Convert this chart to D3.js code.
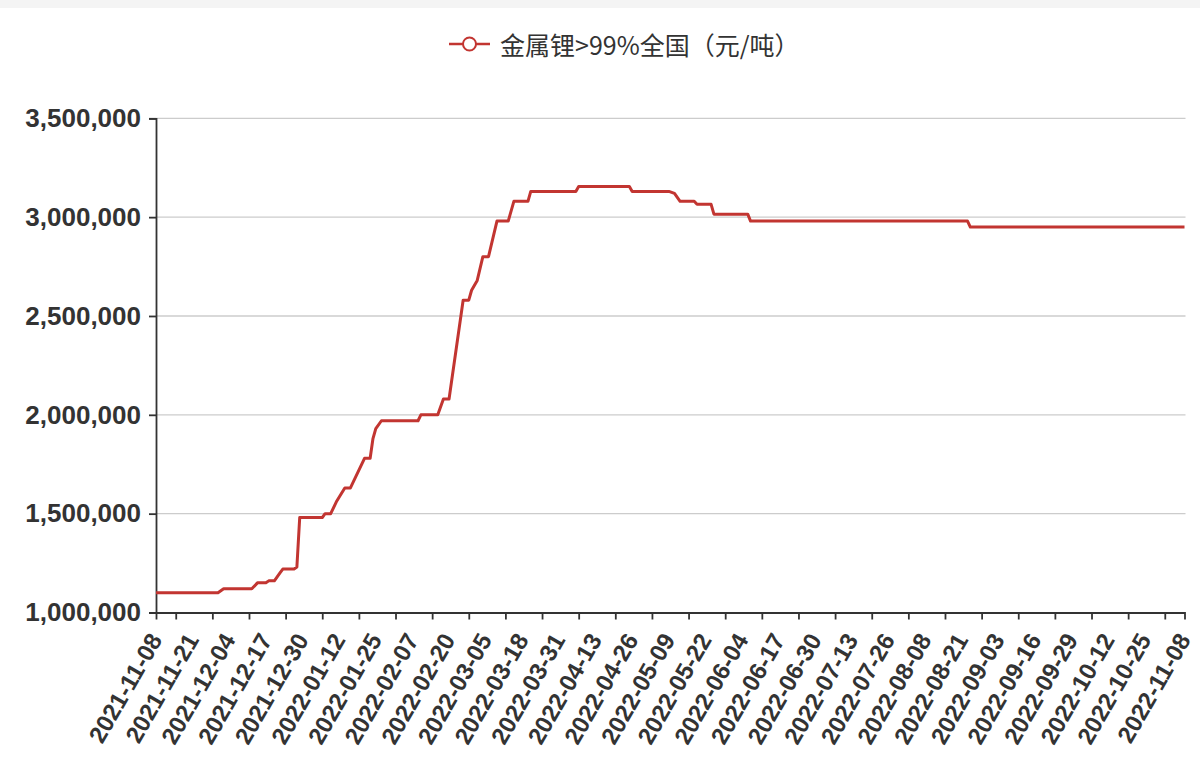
<!DOCTYPE html>
<html>
<head>
<meta charset="utf-8">
<script src="https://cdn.jsdelivr.net/npm/d3@7/dist/d3.min.js"></script>
<style>
  html, body { margin: 0; padding: 0; background: #fff; }
  svg { display: block; }
</style>
</head>
<body>
<svg id="chart" width="1200" height="757"></svg>
<script>
// ---- data ----
const seriesName = "金属锂>99%全国（元/吨）";
const pointDates = [
  "2021-11-08","2021-11-30","2021-12-02","2021-12-12","2021-12-14","2021-12-17",
  "2021-12-18","2021-12-20","2021-12-21","2021-12-22","2021-12-23","2021-12-27",
  "2021-12-28","2021-12-29","2022-01-06","2022-01-07","2022-01-09","2022-01-11",
  "2022-01-14","2022-01-16","2022-01-21","2022-01-23","2022-01-24","2022-01-25",
  "2022-01-27","2022-02-09","2022-02-10","2022-02-16","2022-02-18","2022-02-20",
  "2022-02-25","2022-02-27","2022-02-28","2022-03-02","2022-03-04","2022-03-06",
  "2022-03-09","2022-03-13","2022-03-15","2022-03-20","2022-03-21","2022-03-22",
  "2022-04-06","2022-04-07","2022-04-25","2022-04-26","2022-05-09","2022-05-11",
  "2022-05-13","2022-05-18","2022-05-19","2022-05-24","2022-05-25","2022-06-06",
  "2022-06-07","2022-08-23","2022-08-24","2022-11-08"
];
const pointValues = [
  1100000,1100000,1120000,1120000,1150000,1150000,
  1160000,1160000,1180000,1200000,1220000,1220000,
  1230000,1480000,1480000,1500000,1500000,1560000,
  1630000,1630000,1780000,1780000,1880000,1930000,
  1970000,1970000,2000000,2000000,2080000,2080000,
  2580000,2580000,2630000,2680000,2800000,2800000,
  2980000,2980000,3080000,3080000,3130000,3130000,
  3130000,3155000,3155000,3130000,3130000,3120000,
  3080000,3080000,3065000,3065000,3015000,3015000,
  2980000,2980000,2950000,2950000
];
const yTicks = [1000000,1500000,2000000,2500000,3000000,3500000];
const xLabels = [
  "2021-11-08","2021-11-21","2021-12-04","2021-12-17","2021-12-30","2022-01-12",
  "2022-01-25","2022-02-07","2022-02-20","2022-03-05","2022-03-18","2022-03-31",
  "2022-04-13","2022-04-26","2022-05-09","2022-05-22","2022-06-04","2022-06-17",
  "2022-06-30","2022-07-13","2022-07-26","2022-08-08","2022-08-21","2022-09-03",
  "2022-09-16","2022-09-29","2022-10-12","2022-10-25","2022-11-08"
];

// ---- drawing ----
const parse = d3.utcParse("%Y-%m-%d");
const data = pointDates.map((d, i) => ({ date: parse(d), value: pointValues[i] }));
const labelDates = xLabels.map(parse);
const tickDates = labelDates.slice(0, -1).map(d => d3.utcDay.offset(d, 7));

const svg = d3.select("#chart");
const plotLeft = 156, plotRight = 1184.5, plotTop = 118.3, plotBottom = 612.5;
const x = d3.scaleUtc().domain([parse("2021-11-08"), parse("2022-11-08")]).range([plotLeft, plotRight]);
const y = d3.scaleLinear().domain([1000000, 3500000]).range([plotBottom, plotTop]);

// top band
svg.append("rect").attr("x", 0).attr("y", 0).attr("width", 1200).attr("height", 8).attr("fill", "#f4f4f4");

// grid
svg.append("g").selectAll("line").data(yTicks.slice(1)).join("line")
  .attr("x1", plotLeft).attr("x2", plotRight + 1)
  .attr("y1", d => y(d)).attr("y2", d => y(d))
  .attr("stroke", "#cccccc").attr("stroke-width", 1.3);

// y axis
const yAxis = svg.append("g").attr("transform", `translate(${plotLeft},0)`)
  .call(d3.axisLeft(y).tickValues(yTicks).tickSize(7).tickPadding(8).tickFormat(d3.format(",")));
yAxis.select(".domain").attr("stroke", "#333").attr("stroke-width", 1.8);
yAxis.selectAll(".tick line").attr("stroke", "#333").attr("stroke-width", 1.8);
yAxis.selectAll("text").attr("fill", "#333").style("font-family", "'Liberation Sans', Arial, sans-serif")
  .style("font-size", "26px").style("font-weight", "bold");

// x axis: tick marks
const xAxisTicks = svg.append("g").attr("transform", `translate(0,${plotBottom})`)
  .call(d3.axisBottom(x).tickValues(tickDates).tickSize(7).tickFormat(""));
xAxisTicks.select(".domain").attr("stroke", "#333").attr("stroke-width", 1.8);
xAxisTicks.selectAll(".tick line").attr("stroke", "#333").attr("stroke-width", 1.8);

// x axis: labels
const xAxisLabels = svg.append("g").attr("transform", `translate(0,${plotBottom})`)
  .call(d3.axisBottom(x).tickValues(labelDates).tickSize(0).tickFormat(d3.utcFormat("%Y-%m-%d")));
xAxisLabels.select(".domain").remove();
xAxisLabels.selectAll("text")
  .attr("y", 0).attr("dy", 0)
  .attr("transform", "translate(1,24) rotate(-60)")
  .attr("text-anchor", "end")
  .attr("dominant-baseline", "middle")
  .attr("fill", "#333")
  .style("font-family", "'Liberation Sans', Arial, sans-serif")
  .style("font-size", "24px").style("font-weight", "bold");

// line
const line = d3.line().x(d => x(d.date)).y(d => y(d.value));
svg.append("path").datum(data).attr("d", line)
  .attr("fill", "none").attr("stroke", "#c23531").attr("stroke-width", 3)
  .attr("stroke-linejoin", "round");

// legend
const lg = svg.append("g").attr("transform", "translate(449,44)");
lg.append("line").attr("x1", 0).attr("x2", 41).attr("y1", 0).attr("y2", 0)
  .attr("stroke", "#c23531").attr("stroke-width", 2.5);
lg.append("circle").attr("cx", 20.5).attr("cy", 0).attr("r", 6.5)
  .attr("fill", "#fff").attr("stroke", "#c23531").attr("stroke-width", 2);
lg.append("text").attr("x", 51).attr("y", 0).attr("dominant-baseline", "central")
  .attr("fill", "#333").style("font-family", "'Noto Sans CJK SC', sans-serif")
  .style("font-size", "25px").text(seriesName);
</script>
</body>
</html>
